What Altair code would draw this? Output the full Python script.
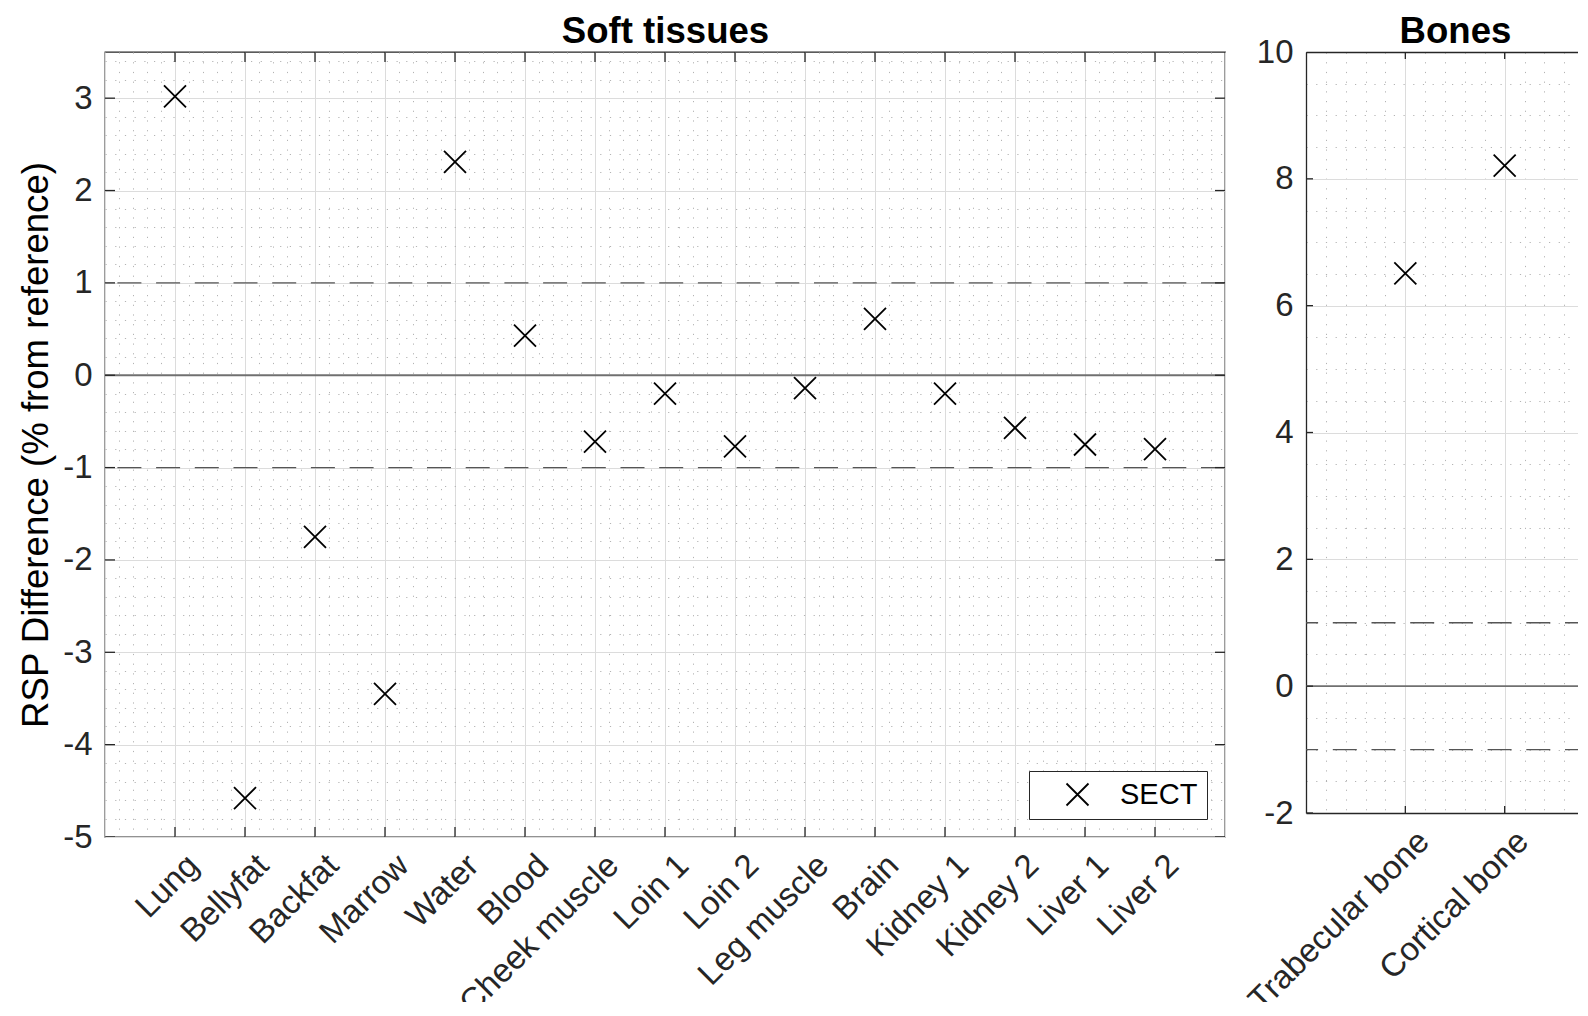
import json
import pandas as pd
import altair as alt

# ---------------- data ----------------
soft_tissues = ["Lung", "Bellyfat", "Backfat", "Marrow", "Water", "Blood",
                "Cheek muscle", "Loin 1", "Loin 2", "Leg muscle", "Brain",
                "Kidney 1", "Kidney 2", "Liver 1", "Liver 2"]
soft_rsp_diff = [3.02, -4.58, -1.75, -3.45, 2.31, 0.43, -0.72, -0.20, -0.77,
                 -0.14, 0.61, -0.20, -0.57, -0.75, -0.80]
bone_tissues = ["Trabecular bone", "Cortical bone"]
bone_rsp_diff = [6.51, 8.21]
series_label = "SECT"
tolerance_levels = [1, -1]
zero_level = [0]
soft_y_major = [-5, -4, -3, -2, -1, 0, 1, 2, 3]
bone_y_major = [-2, 0, 2, 4, 6, 8, 10]

# ---------------- style / layout ----------------
FONT = "Liberation Sans"
AXIS_COLOR = "#262626"
MAJOR_GRID = "#dcdcdc"
MINOR_GRID = "#b4b4b4"
MINOR_DASH = [1.2, 8.5]
TICK_FONT = 33
TITLE_FONT = 36.6
LEGEND_FONT = 29
X_MARK = "M-1,-1L1,1M-1,1L1,-1"
MARK_SIZE = 484

LEFT_W, LEFT_H = 1120, 785
RIGHT_W, RIGHT_H = 283, 761
BONE_FULL_W = 298
SOFT_Y = [-5, 3.5]
BONE_Y = [-2, 10]
SOFT_X = [0, len(soft_tissues) + 1]
BONE_X = [0, 3 * RIGHT_W / BONE_FULL_W]


def steps(lo, hi, step):
    n = int((hi - lo) / step + 1e-9)
    return [round(lo + i * step, 6) for i in range(n + 1)]


soft_x_grid = steps(SOFT_X[0], SOFT_X[1], 0.2)
soft_y_grid = steps(SOFT_Y[0], SOFT_Y[1], 0.2)
bone_x_grid = steps(BONE_X[0], BONE_X[1], 0.2)
bone_y_grid = steps(BONE_Y[0], BONE_Y[1], 0.5)

IS_INT = "abs(datum.value - round(datum.value)) < 1e-6"
IS_EVEN = "abs(datum.value / 2 - round(datum.value / 2)) < 1e-6"


def grid_props(test):
    return dict(
        grid=True,
        gridColor={"condition": {"test": test, "value": MAJOR_GRID}, "value": MINOR_GRID},
        gridDash={"condition": {"test": test, "value": []}, "value": MINOR_DASH},
        gridWidth=1,
        ticks=False,
        labelOverlap=False,
        labelFlush=False,
        labelLimit=0,
        labelFontSize=TICK_FONT,
    )


def name_expr(names):
    return (f"({IS_INT} && round(datum.value) >= 1 && round(datum.value) <= {len(names)}) "
            f"? {json.dumps(names)}[round(datum.value) - 1] : ''")


X_LABEL_STYLE = dict(labelAngle=315, labelAlign="right", labelBaseline="middle",
                     labelPadding=23, labelOffset=18)


def panel(names, values, x_dom, y_dom, x_grid, y_grid, y_test, y_major,
          width, height, tick_len, title, framed, legend, y_title):
    n = len(names)
    xs = alt.Scale(domain=x_dom, nice=False, zero=False)
    ys = alt.Scale(domain=y_dom, nice=False, zero=False)
    df = pd.DataFrame({"slot": list(range(1, n + 1)), "tissue": names,
                       "rsp": values, "series": [series_label] * n})

    domain_props = dict(domain=not framed, domainColor=AXIS_COLOR, domainWidth=1.3)

    y_axis_kw = dict(values=y_grid,
                     labelExpr=f"{y_test} ? toString(round(datum.value)) : ''",
                     labelPadding=13, **grid_props(y_test), **domain_props)
    if y_title:
        y_axis_kw.update(title=y_title, titleFontSize=TITLE_FONT, titleFontWeight="normal",
                         titleX=-68.5, titleY=height / 2, titleAngle=270,
                         titleAlign="center", titleBaseline="middle", titleColor="black")
    else:
        y_axis_kw.update(title=None)

    enc = dict(
        x=alt.X("slot:Q", scale=xs,
                axis=alt.Axis(values=x_grid, labelExpr=name_expr(names), title=None,
                              **X_LABEL_STYLE, **grid_props(IS_INT), **domain_props)),
        y=alt.Y("rsp:Q", scale=ys, axis=alt.Axis(**y_axis_kw)),
    )
    if legend:
        enc["shape"] = alt.Shape(
            "series:N", scale=alt.Scale(domain=[series_label], range=[X_MARK]),
            legend=alt.Legend(orient="none", legendX=924, legendY=719, title=None,
                              padding=9, strokeColor=AXIS_COLOR, fillColor="white",
                              cornerRadius=0, symbolSize=MARK_SIZE, symbolStrokeWidth=1.8,
                              symbolStrokeColor="black", symbolFillColor="transparent",
                              symbolOffset=25, labelOffset=28, labelFontSize=LEGEND_FONT,
                              labelFont=FONT, labelColor="black"))
        points = alt.Chart(df).mark_point(size=MARK_SIZE, filled=False, strokeWidth=1.8,
                                          color="black", opacity=1).encode(**enc)
    else:
        points = alt.Chart(df).mark_point(shape=X_MARK, size=MARK_SIZE, filled=False,
                                          strokeWidth=1.8, color="black",
                                          opacity=1).encode(**enc)

    # inward ticks on the frame
    xt = pd.DataFrame({"slot": [s for s in range(1, n + 1) for _ in (0, 1)],
                       "edge": [y_dom[0], y_dom[1]] * n})
    x_ticks = alt.Chart(xt).mark_tick(orient="vertical", size=2 * tick_len, thickness=1.3,
                                      color=AXIS_COLOR, opacity=1, clip=True).encode(
        x=alt.X("slot:Q", scale=xs,
                axis=alt.Axis(orient="top", labels=False, ticks=False, grid=False,
                              domain=not framed, domainColor=AXIS_COLOR, domainWidth=1.3,
                              title=title, titleFontSize=TITLE_FONT, titleFontWeight="bold",
                              titleX=(BONE_FULL_W / 2 if not framed else width / 2),
                              titleY=-10, titleBaseline="alphabetic", titleAlign="center",
                              titleAngle=0, titleColor="black")),
        y=alt.Y("edge:Q", scale=ys, axis=None),
    )
    x_edges = [x_dom[0], x_dom[1]] if framed else [x_dom[0]]
    yt = pd.DataFrame({"val": [v for v in y_major for _ in x_edges],
                       "edge": x_edges * len(y_major)})
    y_ticks = alt.Chart(yt).mark_tick(orient="horizontal", size=2 * tick_len, thickness=1.3,
                                      color=AXIS_COLOR, opacity=1, clip=True).encode(
        x=alt.X("edge:Q", scale=xs, axis=None),
        y=alt.Y("val:Q", scale=ys, axis=None),
    )

    tol = alt.Chart(pd.DataFrame({"lvl": tolerance_levels})).mark_rule(
        strokeDash=[24, 14.7], color="#555555", strokeWidth=1.3).encode(
        y=alt.Y("lvl:Q", scale=ys, axis=None))
    zero = alt.Chart(pd.DataFrame({"lvl": zero_level})).mark_rule(
        color="#707070", strokeWidth=1.8).encode(
        y=alt.Y("lvl:Q", scale=ys, axis=None))

    layer = (alt.layer(points, tol, zero, x_ticks, y_ticks)
             .resolve_axis(x="independent", y="independent"))
    props = dict(width=width, height=height)
    if not framed:
        props["view"] = alt.ViewBackground(stroke="transparent")
    return layer.properties(**props)


left = panel(soft_tissues, soft_rsp_diff, SOFT_X, SOFT_Y, soft_x_grid, soft_y_grid,
             IS_INT, soft_y_major, LEFT_W, LEFT_H, 10, "Soft tissues", True, True,
             "RSP Difference (% from reference)")
right = panel(bone_tissues, bone_rsp_diff, BONE_X, BONE_Y, bone_x_grid, bone_y_grid,
              IS_EVEN, bone_y_major, RIGHT_W, RIGHT_H, 7, "Bones", False, False, None)

chart = (
    alt.hconcat(left, right, spacing=81, bounds="flush")
    .resolve_scale(x="independent", y="independent", shape="independent")
    .resolve_legend(shape="independent")
    .properties(padding={"left": 9, "top": 4, "right": -37, "bottom": -19})
    .configure_view(stroke=AXIS_COLOR, strokeWidth=1.3)
    .configure_axis(labelFont=FONT, titleFont=FONT, labelColor=AXIS_COLOR)
)

chart.save("out.html", embed_options={"renderer": "svg", "actions": False})
